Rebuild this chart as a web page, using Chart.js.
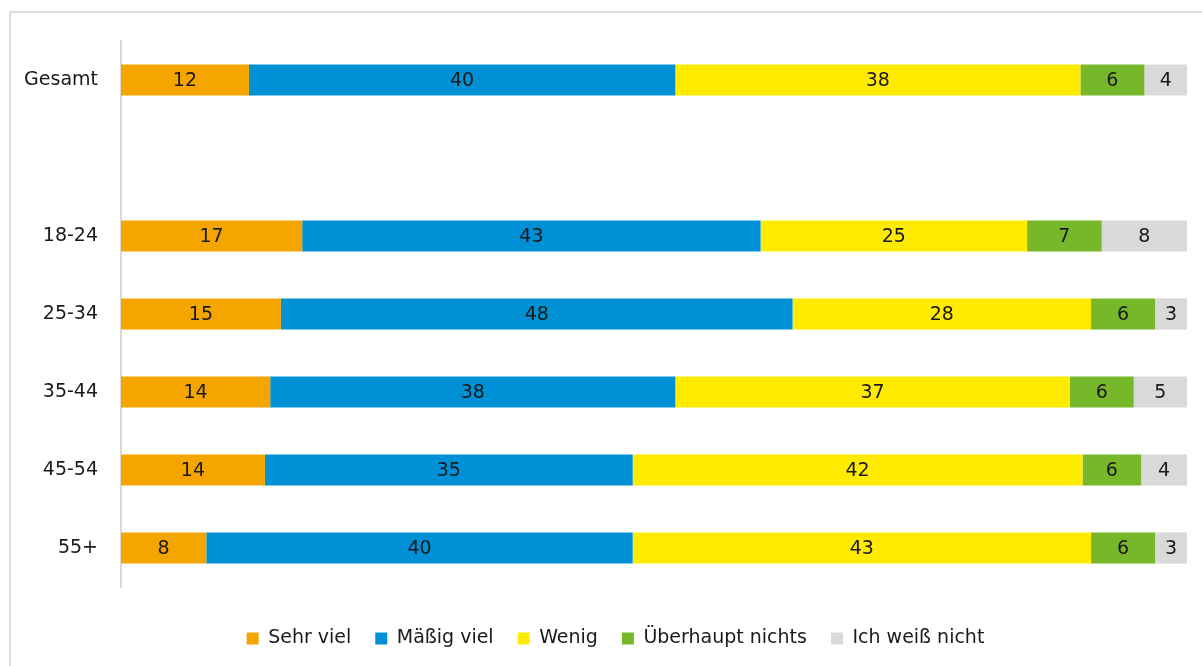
<!DOCTYPE html>
<html lang="de">
<head>
    <meta charset="UTF-8">
    <title>Umfrage nach Alter</title>
    <style>
        html, body { margin: 0; padding: 0; background: #fff; }
        #wrap { position: relative; width: 1202px; height: 666px; }
    </style>
</head>
<body>
    <div id="wrap"><canvas id="myChart" width="1202" height="666"></canvas></div>

    <script src="https://cdn.jsdelivr.net/npm/chart.js@4.4.1/dist/chart.umd.min.js"></script>
    <script>
        var categories = ['Gesamt', '', '18-24', '25-34', '35-44', '45-54', '55+'];
        var seriesNames = ['Sehr viel', 'Mäßig viel', 'Wenig', 'Überhaupt nichts', 'Ich weiß nicht'];
        var sehrViel    = [12, null, 17, 15, 14, 13.5, 8];
        var maessigViel = [40, null, 43, 48, 38, 34.5, 40];
        var wenig       = [38, null, 25, 28, 37, 42.2, 43];
        var ueberhaupt  = [6,  null, 7,  6,  6,  5.5,  6];
        var weissNicht  = [4,  null, 8,  3,  5,  4.3,  3];
        var colors = ['#f5a500', '#0090d6', '#ffeb00', '#76b82a', '#d9d9d9'];

        var FONT = "'DejaVu Sans', sans-serif";

        var allSeries = [sehrViel, maessigViel, wenig, ueberhaupt, weissNicht];
        var datasets = [];
        for (var i = 0; i < allSeries.length; i++) {
            datasets.push({
                label: seriesNames[i],
                data: allSeries[i],
                backgroundColor: colors[i],
                borderWidth: 0,
                barPercentage: 0.8,
                categoryPercentage: 0.5
            });
        }

        // light frame around the whole picture
        var framePlugin = {
            id: 'frame',
            beforeDraw: function(chart) {
                var ctx = chart.ctx;
                ctx.save();
                ctx.strokeStyle = '#dcdcdc';
                ctx.lineWidth = 2;
                ctx.strokeRect(10, 12, 1300, 800);
                ctx.restore();
            },
            // nudge the legend a bit to the right, like in the original
            afterLayout: function(chart) {
                if (chart.legend) chart.legend.left += 44;
            }
        };

        // value labels in the middle of each bar piece
        var valueLabels = {
            id: 'valueLabels',
            afterDatasetsDraw: function(chart) {
                var ctx = chart.ctx;
                ctx.save();
                ctx.font = '19px ' + FONT;
                ctx.fillStyle = '#1a1a1a';
                ctx.textAlign = 'center';
                ctx.textBaseline = 'middle';
                chart.data.datasets.forEach(function(ds, di) {
                    chart.getDatasetMeta(di).data.forEach(function(bar, j) {
                        var v = ds.data[j];
                        if (v === null) return;
                        var p = bar.getProps(['x', 'y', 'base'], true);
                        ctx.fillText(Math.round(v), (p.x + p.base) / 2, p.y + 1);
                    });
                });
                ctx.restore();
            }
        };

        new Chart(document.getElementById('myChart'), {
            type: 'bar',
            data: { labels: categories, datasets: datasets },
            options: {
                indexAxis: 'y',
                responsive: false,
                animation: false,
                layout: { padding: { top: 41, right: 15, left: 0, bottom: 8 } },
                scales: {
                    x: {
                        stacked: true, min: 0, max: 100,
                        grid: { display: false },
                        border: { display: false },
                        ticks: { display: false },
                        afterFit: function(s) { s.height = 18; }
                    },
                    y: {
                        stacked: true,
                        grid: { display: false },
                        border: { display: true, color: '#d9d9d9', width: 2 },
                        ticks: { color: '#1a1a1a', font: { family: FONT, size: 19 }, padding: 15 },
                        afterFit: function(s) { s.width = 121; }
                    }
                },
                plugins: {
                    tooltip: { enabled: false },
                    legend: {
                        position: 'bottom',
                        labels: {
                            color: '#1a1a1a',
                            font: { family: FONT, size: 19 },
                            boxWidth: 12,
                            boxHeight: 12,
                            padding: 24
                        }
                    }
                }
            },
            plugins: [framePlugin, valueLabels]
        });
    </script>
</body>
</html>
